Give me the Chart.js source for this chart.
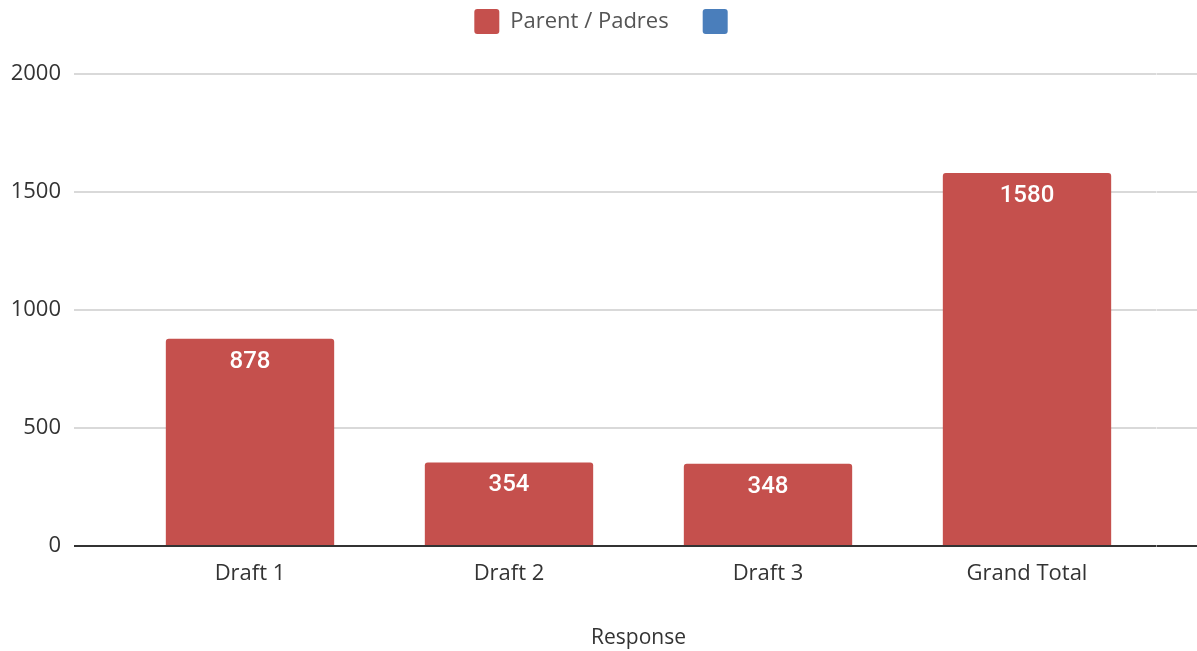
<!DOCTYPE html>
<html>
<head>
<meta charset="utf-8">
<script src="https://cdn.jsdelivr.net/npm/chart.js@4.4.1/dist/chart.umd.min.js"></script>
<style>
	html, body { margin: 0; padding: 0; background: #fff; }
	#wrap { width: 1197px; height: 651px; position: relative; }
</style>
</head>
<body>
<div id="wrap"><canvas id="chart"></canvas></div>
<script>
// Data
const categories = ['Draft 1', 'Draft 2', 'Draft 3', 'Grand Total']
const parentValues = [878, 354, 348, 1580]
const otherValues = []
const yTicks = [0, 500, 1000, 1500, 2000]
const seriesNames = ['Parent / Padres', '']
const seriesColors = ['#c5504d', '#4a7ebb']
const xTitle = 'Response'

const FONT = '"Open Sans", "Noto Sans", sans-serif'

const gridColor = ctx => (ctx.tick && ctx.tick.value === 0 ? '#333333' : '#d9d9d9')

// white numbers inside the top of each bar
const valueLabels = {
	id: 'valueLabels',
	afterDatasetsDraw(chart) {
		const ctx = chart.ctx
		const meta = chart.getDatasetMeta(0)
		ctx.save()
		ctx.font = '500 24px Roboto, sans-serif'
		ctx.fillStyle = '#ffffff'
		ctx.textAlign = 'center'
		ctx.textBaseline = 'middle'
		meta.data.forEach((bar, i) => {
			ctx.fillText(String(parentValues[i]), bar.x, bar.y + 23)
		})
		ctx.restore()
	},
}

// legend height is padded so the plot starts lower
const legendGap = {
	id: 'legendGap',
	beforeLayout(chart) {
		const legend = chart.legend
		if (!legend || legend._gapPatched) return
		const fit = legend.fit
		legend.fit = function () {
			fit.call(this)
			this.height += 30
		}
		legend._gapPatched = true
	},
}

new Chart(document.getElementById('chart'), {
	type: 'bar',
	data: {
		labels: categories,
		datasets: [
			{
				label: seriesNames[0],
				data: parentValues,
				backgroundColor: seriesColors[0],
				borderRadius: { topLeft: 3, topRight: 3 },
			},
			{
				label: seriesNames[1],
				data: otherValues,
				backgroundColor: seriesColors[1],
			},
		],
	},
	options: {
		responsive: true,
		maintainAspectRatio: false,
		animation: false,
		// small left/right shift so the centred legend lands where it should
		layout: { padding: { top: -25, left: 8, right: -8, bottom: 0 } },
		datasets: {
			bar: {
				grouped: false,
				categoryPercentage: 1,
				barPercentage: 0.65,
			},
		},
		plugins: {
			legend: {
				position: 'top',
				labels: {
					boxWidth: 25,
					boxHeight: 25,
					padding: 34,
					color: '#555555',
					font: { family: FONT, size: 22 },
					useBorderRadius: true,
					borderRadius: 3,
				},
			},
			tooltip: { enabled: false },
		},
		scales: {
			x: {
				grid: { display: false },
				border: { display: false },
				ticks: {
					color: '#333333',
					padding: 7,
					font: { family: FONT, size: 22 },
				},
				title: {
					display: true,
					text: xTitle,
					color: '#333333',
					padding: { top: 3, bottom: 0 },
					font: { family: FONT, size: 21 },
				},
				afterFit(scale) {
					scale.height = 105
				},
			},
			y: {
				min: 0,
				max: 2000,
				afterBuildTicks(scale) {
					scale.ticks = yTicks.map(value => ({ value }))
				},
				grid: {
					color: gridColor,
					tickColor: gridColor,
					lineWidth: 2,
					tickLength: 46.5,
				},
				border: { display: false },
				ticks: {
					color: '#333333',
					padding: 13,
					font: { family: FONT, size: 22 },
					callback: value => String(value),
				},
				afterFit(scale) {
					scale.width = 112.5
				},
			},
			y2: {
				position: 'right',
				min: 0,
				max: 2000,
				afterBuildTicks(scale) {
					scale.ticks = yTicks.map(value => ({ value }))
				},
				grid: {
					drawOnChartArea: false,
					color: gridColor,
					tickColor: gridColor,
					lineWidth: 2,
					tickLength: 40.5,
				},
				border: { display: false },
				ticks: { display: false },
				afterFit(scale) {
					scale.width = 48.5
				},
			},
		},
	},
	plugins: [valueLabels, legendGap],
})
</script>
</body>
</html>
